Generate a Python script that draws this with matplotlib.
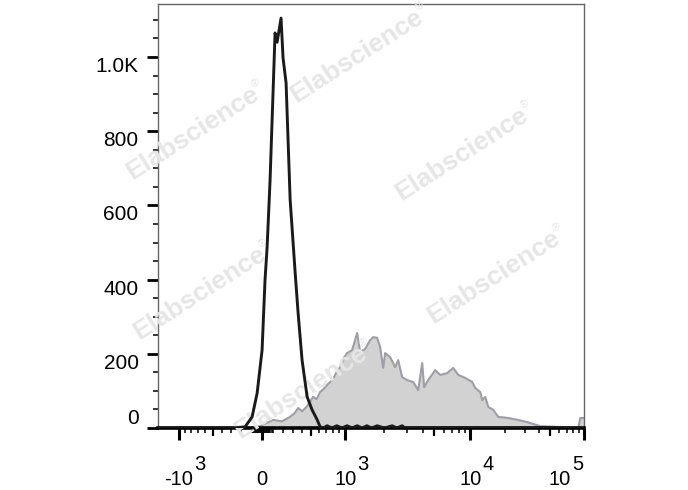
import matplotlib
matplotlib.use('Agg')
import matplotlib.pyplot as plt
import numpy as np

W, H = 688, 490

# histogram of the control (black line) and the stained sample (grey fill)
black_x = [-1452, -293, -163, -95, -47, 0, 28, 48, 76, 124, 144, 182, 202, 232,
           273, 325, 356, 399, 456, 514, 577, 615, 660, 710, 780, 855, 940, 1035,
           1130, 1238, 1350, 1470, 1600, 1762, 2000, 2300, 2500, 2753, 2900, 100000]
black_y = [0, 0, 3, 30, 94, 210, 399, 488, 668, 1065, 1040, 1105, 997, 930,
           615, 418, 310, 183, 84, 49, 22, 3, 0, 6, 0, 6, 0, 6,
           0, 6, 0, 6, 0, 6, 0, 6, 0, 6, 0, 0]

gray_x = [-1452, -163, -19, 105, 190, 272, 320, 356, 400, 456, 526, 570, 615, 660,
          710, 760, 798, 850, 911, 980, 1035, 1133, 1238, 1306, 1426, 1558, 1642,
          1762, 1858, 1960, 2030, 2219, 2427, 2562, 2753, 3016, 3366, 3691, 3975,
          4125, 4447, 5074, 5579, 6379, 7163, 7891, 9045, 10376, 11010, 12157,
          12650, 13426, 14249, 15741, 17404, 21284, 25538, 31290, 40790, 57750,
          75440, 88920, 92670, 100000]
gray_y = [0, 0, 5, 22, 18, 30, 40, 54, 45, 59, 84, 78, 97, 105,
          116, 125, 132, 150, 164, 190, 202, 210, 256, 205, 213, 237, 245,
          243, 218, 162, 202, 191, 164, 183, 137, 129, 124, 102, 175,
          110, 129, 156, 143, 148, 162, 143, 135, 124, 108, 97,
          75, 84, 57, 49, 30, 27, 22, 16, 5, 3,
          0, 0, 27, 27]

ytick_vals = [0, 200, 400, 600, 800, 1000]
ytick_labels = ['0', '200', '400', '600', '800', '1.0K']
xlabel_vals = [-1000, 0, 1000, 10000, 100000]
xlabel_base = ['-10', '0', '10', '10', '10']
xlabel_exp = ['3', '', '3', '4', '5']

# biexponential (logicle-like) axis
BX_A = 125.6
BX_B = 0.020744
BX_P = 2.65


def biex_inverse(z):
    z = np.asarray(z, dtype=float)
    u = BX_B * np.abs(z)
    v = BX_A * (np.exp(u) - BX_P**2 * np.exp(-u / BX_P) + BX_P**2 - 1)
    return np.sign(z) * v


_grid = np.linspace(-400, 500, 20001)
_vals = biex_inverse(_grid)


def biex_forward(x):
    return np.interp(np.asarray(x, dtype=float), _vals, _grid)


plt.rcParams['font.family'] = ['Liberation Sans', 'DejaVu Sans']

fig = plt.figure(figsize=(W / 100, H / 100), dpi=100)
ax = fig.add_axes([158 / W, 62 / H, 426 / W, 424 / H])
ax.set_xscale('function', functions=(biex_forward, biex_inverse))

ax.fill_between(gray_x, gray_y, 0, color='#d2d2d2', lw=0, zorder=1)
ax.plot(gray_x, gray_y, color='#9e9ea4', lw=1.5, zorder=2)
ax.plot(black_x, black_y, color='#1a1a1a', lw=2.1, zorder=4)

ax.set_xlim(-1452, 100000)
ax.set_ylim(0, 1143)

# x ticks
minor_x = ([-v for v in range(900, 0, -100)] + [-v for v in range(90, 0, -10)]
           + list(range(10, 100, 10)) + list(range(100, 1000, 100))
           + list(range(2000, 10000, 1000)) + list(range(20000, 100000, 10000)))
medium_x = [-500, 500, 5000, 50000]
ax.set_xticks(xlabel_vals)
ax.set_xticks(minor_x, minor=True)
ax.tick_params(axis='x', which='major', length=8.5, width=2.2, color='black',
               labelbottom=False)
ax.tick_params(axis='x', which='minor', length=3.8, width=1.1, color='black')
for t, loc in zip(ax.xaxis.get_minor_ticks(len(minor_x)), minor_x):
    if loc in medium_x:
        t.tick1line.set_markersize(6)
        t.tick1line.set_markeredgewidth(1.6)

# y ticks
ax.set_yticks(ytick_vals, labels=ytick_labels)
ax.set_yticks([v for v in range(50, 1150, 50) if v % 200 != 0], minor=True)
ax.tick_params(axis='y', which='major', length=8, width=2, pad=6, labelsize=15,
               color='black')
ax.tick_params(axis='y', which='minor', length=3.6, width=1.1, color='black')
for lbl in ax.yaxis.get_majorticklabels():
    if lbl.get_text() == '0':
        lbl.set_verticalalignment('bottom')
    else:
        lbl.set_verticalalignment('top')

for side in ['top', 'right', 'left']:
    ax.spines[side].set_linewidth(1)
    ax.spines[side].set_color('#666666')
ax.spines['bottom'].set_linewidth(2.6)
ax.spines['bottom'].set_color('black')

# x tick labels: "10" with a raised exponent
for val, base, ex in zip(xlabel_vals, xlabel_base, xlabel_exp):
    dx = -24 if val == 100000 else 0
    t = ax.annotate(base, xy=(val, 5 / H), xycoords=('data', 'figure fraction'),
                    xytext=(dx, 0), textcoords='offset pixels', ha='center',
                    va='baseline', fontsize=14.5, annotation_clip=False)
    if ex:
        ax.annotate(ex, xy=(1, 1), xycoords=t, xytext=(1, 0),
                    textcoords='offset pixels', ha='left', va='baseline',
                    fontsize=14.5, annotation_clip=False)

# watermarks
ANG = 32.6
th = np.radians(ANG)
for cx, cy in [(193, 133), (200, 293), (462, 154), (494, 277), (357, 56), (301, 392)]:
    fx, fy = cx, H - cy
    ax.text(fx / W, fy / H, 'Elabscience', transform=fig.transFigure,
            rotation=ANG, rotation_mode='anchor', ha='center', va='center',
            fontsize=19, fontweight='bold', color='#e6e6e6', zorder=3)
    rx = fx + 80 * np.cos(th) - 8 * np.sin(th)
    ry = fy + 80 * np.sin(th) + 8 * np.cos(th)
    ax.text(rx / W, ry / H, '®', transform=fig.transFigure,
            rotation=ANG, rotation_mode='anchor', ha='center', va='center',
            fontsize=8, color='#e6e6e6', zorder=3)

fig.savefig('out.png', dpi=100)
